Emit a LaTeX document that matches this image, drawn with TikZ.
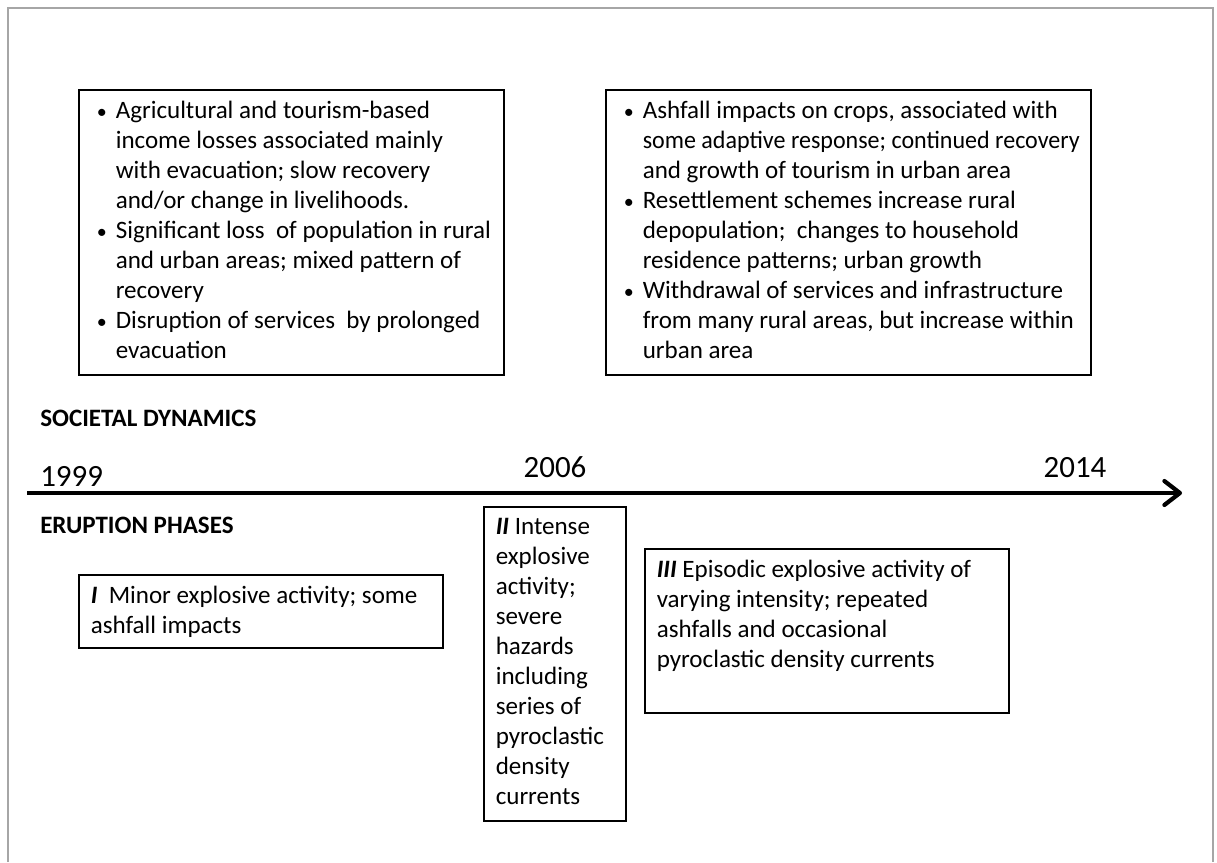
\documentclass[tikz,border=0pt]{standalone}
\usepackage{fontspec}
\setmainfont{Carlito}
\usetikzlibrary{arrows.meta,positioning}

\definecolor{framegray}{HTML}{A6A6A6}

\newcommand\blt{\par\hangindent=0.575cm\hangafter=1\noindent
  \makebox[0.575cm][l]{\hspace{0.1cm}\scalebox{0.8}{\textbullet}}}
\newcommand\boxtext[3]{\makebox[#1][l]{\begin{minipage}[t][#2][t]{\dimexpr#1+1cm\relax}\parskip=0pt #3\end{minipage}}}

\begin{document}
\begin{tikzpicture}[x=0.025cm, y=-0.025cm,
  infobox/.style={draw, line width=1.1pt, inner xsep=0.35cm, inner ysep=0.275cm,
    anchor=north west, font=\fontsize{17.8}{21.34}\selectfont},
  phasebox/.style={infobox, inner xsep=0.3cm},
  year/.style={inner sep=0, font=\fontsize{22}{26}\selectfont},
  heading/.style={inner sep=0, anchor=base west, font=\bfseries\fontsize{17.8}{21}\selectfont}]

\useasboundingbox (0,0) rectangle (1217,862);

% frame
\coordinate (F1) at (8,862);
\coordinate (F2) at (8,8);
\coordinate (F3) at (1213,8);
\coordinate (F4) at (1213,862);
\draw[framegray, line width=2pt] (F1) -- (F2) -- (F3) -- (F4);

% societal dynamics
\node[infobox] (soc1) at (78,89) {\boxtext{9.925cm}{6.575cm}{%
\blt Agricultural and tourism-based\\income losses associated mainly\\with evacuation; slow recovery\\and/or change in livelihoods.
\blt Significant loss \ of population in rural\\and urban areas; mixed pattern of\\recovery
\blt Disruption of services \ by prolonged\\evacuation}};
\node[infobox] (soc2) at (605,89) {\boxtext{11.425cm}{6.575cm}{%
\blt Ashfall impacts on crops, associated with\\\scalebox{0.96}[1]{some adaptive response; continued recovery}\\and growth of tourism in urban area
\blt Resettlement schemes increase rural\\depopulation; \ changes to household\\residence patterns; urban growth
\blt Withdrawal of services and infrastructure\\from many rural areas, but increase within\\urban area}};

\node[heading] (socdyn) at (40,426) {SOCIETAL DYNAMICS};

% time line
\coordinate (T0) at (27,493);
\coordinate (T1) at (1182,493);
\draw[line width=3pt, -{Straight Barb[length=11pt,width=17pt,round]}] (T0) -- (T1);

\node[year, anchor=base west] (y1999) at (40,486) {1999};
\foreach \yr/\xx in {2006/555,2014/1075}
  \node[year, anchor=base] (y\yr) at (\xx,477) {\yr};

\node[heading] (erupt) at (40,533) {ERUPTION PHASES};

% eruption phases
\node[phasebox] (ph1) at (78,574) {\boxtext{8.5cm}{1.275cm}{%
\textbf{\textit{I}}\ \ Minor explosive activity; some\\ashfall impacts}};
\node[phasebox] (ph2) at (483,506) {\boxtext{2.95cm}{7.3cm}{%
\textbf{\textit{II}}\ Intense\\explosive\\activity;\\severe\\hazards\\including\\series of\\pyroclastic\\density\\currents}};
\node[phasebox] (ph3) at (644,548) {\boxtext{8.5cm}{3.55cm}{%
\textbf{\textit{III}}\ Episodic explosive activity of\\varying intensity; repeated\\ashfalls and occasional\\pyroclastic density currents}};

\end{tikzpicture}
\end{document}
